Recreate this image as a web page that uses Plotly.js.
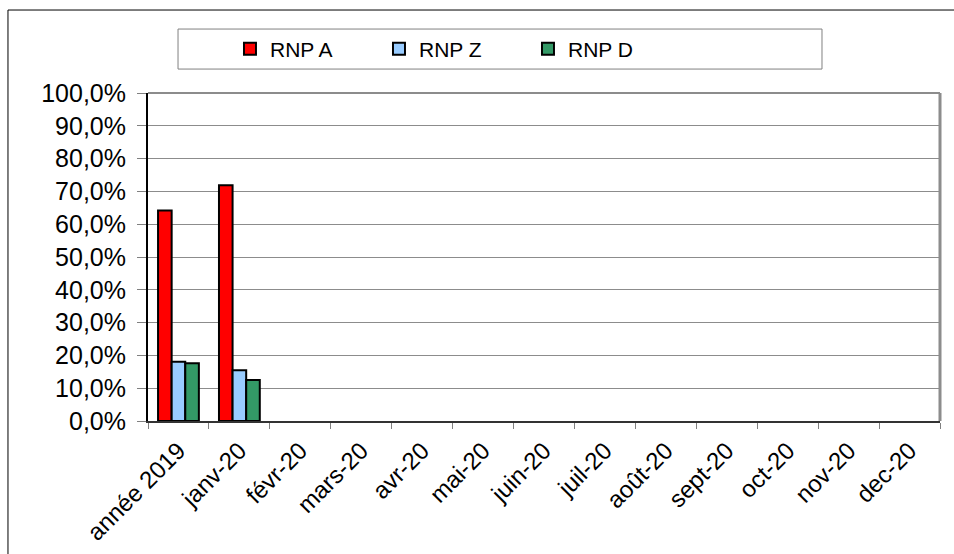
<!DOCTYPE html>
<html>
<head>
<meta charset="utf-8">
<script src="https://cdn.plot.ly/plotly-3.0.1.min.js"></script>
<style>html,body{margin:0;padding:0;background:#fff;}#chart{width:954px;height:554px;}</style>
</head>
<body>
<div id="chart"></div>
<script>
var categories = ["année 2019","janv-20","févr-20","mars-20","avr-20","mai-20","juin-20","juil-20","août-20","sept-20","oct-20","nov-20","dec-20"];
var rnpA = [0.642, 0.719, null, null, null, null, null, null, null, null, null, null, null];
var rnpZ = [0.181, 0.155, null, null, null, null, null, null, null, null, null, null, null];
var rnpD = [0.176, 0.125, null, null, null, null, null, null, null, null, null, null, null];
var seriesNames = ["RNP A","RNP Z","RNP D"];
var seriesColors = ["#ff0000","#99ccff","#339966"];
var seriesValues = [rnpA, rnpZ, rnpD];

var traces = seriesValues.map(function(v, i){
  return {
    type: 'bar', x: categories, y: v, name: seriesNames[i],
    marker: {color: seriesColors[i], line: {color: '#000', width: 2}},
    hoverinfo: 'skip'
  };
});

var layout = {
  width: 954, height: 554,
  margin: {l: 148, r: 14, t: 93, b: 133},
  paper_bgcolor: '#fff', plot_bgcolor: '#fff',
  font: {family: '"Liberation Sans", Arial, sans-serif', color: '#000'},
  separators: ',.',
  barmode: 'group', bargap: 0.33, bargroupgap: 0,
  showlegend: true,
  legend: {
    orientation: 'h', x: 0.1035, xanchor: 'left', y: 1.134, yanchor: 'middle',
    bgcolor: 'rgba(0,0,0,0)', borderwidth: 0,
    font: {size: 21, color: '#000'},
    entrywidth: 104, entrywidthmode: 'pixels', traceorder: 'normal'
  },
  xaxis: {
    type: 'category', tickson: 'boundaries', ticks: 'outside', ticklen: 6,
    tickcolor: '#808080', tickwidth: 1, tickangle: -45,
    ticklabelstandoff: 4,
    tickfont: {size: 24}, showgrid: false,
    showline: true, linecolor: '#333', linewidth: 2, zeroline: false, fixedrange: true
  },
  yaxis: {
    range: [0, 1], dtick: 0.1, tick0: 0, tickformat: '.1%',
    ticks: 'outside', ticklen: 9, tickcolor: '#808080', tickwidth: 1,
    ticklabelstandoff: 6,
    tickfont: {size: 25},
    showgrid: true, gridcolor: '#8c8c8c', gridwidth: 1,
    showline: true, linecolor: '#000', linewidth: 2, zeroline: false, fixedrange: true
  },
  shapes: [
    {type: 'line', xref: 'paper', yref: 'paper', x0: 0, x1: 1, y0: 1, y1: 1, line: {color: '#8c8c8c', width: 2}},
    {type: 'line', xref: 'paper', yref: 'paper', x0: 1, x1: 1, y0: 0, y1: 1, line: {color: '#8c8c8c', width: 3}},
    {type: 'rect', xref: 'paper', yref: 'paper', x0: 0.0379, x1: 0.851, y0: 1.073, y1: 1.195, line: {color: '#808080', width: 1}, fillcolor: 'rgba(0,0,0,0)'},
    {type: 'rect', xref: 'paper', yref: 'paper', x0: -0.1768, x1: 1.03, y0: -0.43, y1: 1.253, line: {color: '#000', width: 1}, fillcolor: 'rgba(0,0,0,0)'}
  ]
};

Plotly.newPlot('chart', traces, layout, {staticPlot: true, displayModeBar: false});
</script>
</body>
</html>
